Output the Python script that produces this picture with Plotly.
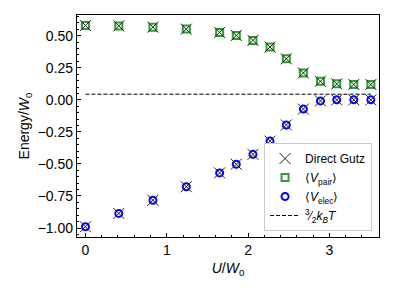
import plotly.graph_objects as go

u_vals = [0.0, 0.41, 0.83, 1.24, 1.65, 1.855, 2.06, 2.27, 2.47, 2.68, 2.89, 3.09, 3.30, 3.51]
v_pair = [0.580, 0.577, 0.567, 0.552, 0.526, 0.502, 0.464, 0.412, 0.320, 0.210, 0.145, 0.125, 0.120, 0.120]
v_elec = [-0.990, -0.886, -0.783, -0.678, -0.570, -0.502, -0.425, -0.322, -0.196, -0.072, -0.008, 0.000, 0.000, 0.000]
kT_level = 0.044

fig = go.Figure()

fig.add_trace(go.Scatter(
    x=u_vals, y=v_pair, mode="markers", name="⟨<i>V</i><sub>pair</sub>⟩",
    legendrank=2,
    marker=dict(symbol="square-open", size=7, color="#2ca02c", line=dict(width=2, color="#2ca02c")),
))
fig.add_trace(go.Scatter(
    x=u_vals, y=v_elec, mode="markers", name="⟨<i>V</i><sub>elec</sub>⟩",
    legendrank=3,
    marker=dict(symbol="circle-open", size=7, color="#0000ff", line=dict(width=2, color="#0000ff")),
))
fig.add_trace(go.Scatter(
    x=u_vals + u_vals, y=v_pair + v_elec, mode="markers", name="Direct Gutz",
    legendrank=1,
    marker=dict(symbol="x-thin-open", size=11, color="#222222", line=dict(width=1, color="#222222")),
))
fig.add_trace(go.Scatter(
    x=[u_vals[0], u_vals[-1]], y=[kT_level, kT_level], mode="lines",
    name="<sup>3</sup>⁄<sub>2</sub><i>k<sub>B</sub>T</i>",
    legendrank=4,
    line=dict(color="black", width=1, dash="4px,2px"),
))

font_family = "Liberation Sans, Arial, sans-serif"
fig.update_layout(
    width=395, height=290,
    margin=dict(l=69, r=24, t=7, b=61),
    paper_bgcolor="white", plot_bgcolor="white",
    font=dict(family=font_family, size=14, color="black"),
    showlegend=True,
    legend=dict(
        x=0.977, y=0.027, xanchor="right", yanchor="bottom",
        bgcolor="white", bordercolor="#cccccc", borderwidth=1,
        font=dict(size=12), tracegroupgap=0, itemwidth=30,
    ),
    xaxis=dict(
        range=[-0.104, 3.61], showgrid=False, zeroline=False,
        showline=True, linecolor="black", linewidth=1.2, mirror=True,
        ticks="inside", ticklen=4, tickcolor="black",
        tickvals=[0, 1, 2, 3], ticktext=["0", "1", "2", "3"],
        minor=dict(ticks="inside", ticklen=2, dtick=0.2, tick0=0, tickcolor="black", showgrid=False),
        title=dict(text="<i>U</i>/<i>W</i><sub>0</sub>", font=dict(size=14), standoff=6),
        tickfont=dict(size=14),
    ),
    yaxis=dict(
        range=[-1.07, 0.662], showgrid=False, zeroline=False,
        showline=True, linecolor="black", linewidth=1.2, mirror=True,
        ticks="inside", ticklen=4, tickcolor="black",
        tickvals=[-1.0, -0.75, -0.5, -0.25, 0.0, 0.25, 0.5],
        ticktext=["−1.00", "−0.75", "−0.50", "−0.25", "0.00", "0.25", "0.50"],
        minor=dict(ticks="inside", ticklen=2, dtick=0.05, tick0=0, tickcolor="black", showgrid=False),
        title=dict(text="Energy/<i>W</i><sub>0</sub>", font=dict(size=14), standoff=4),
        tickfont=dict(size=14),
    ),
)

fig.write_html("out.html")
